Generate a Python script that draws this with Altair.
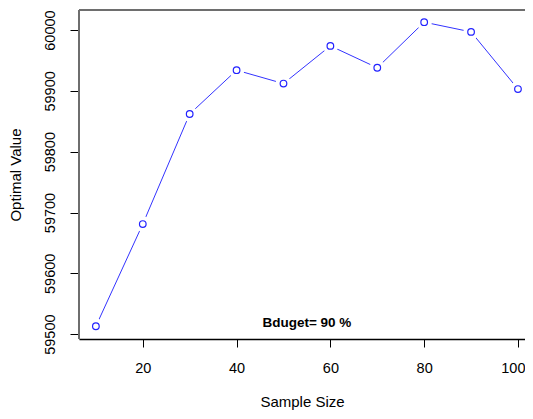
import altair as alt
import pandas as pd

sample_size = [10, 20, 30, 40, 50, 60, 70, 80, 90, 100]
optimal_value = [59513, 59681, 59862, 59934, 59912, 59974, 59938, 60013, 59997, 59903]
x_ticks = [20, 40, 60, 80, 100]
y_ticks = [59500, 59600, 59700, 59800, 59900, 60000]
note_text = ["Bduget= 90 %"]

df = pd.DataFrame({"x": sample_size, "y": optimal_value})

FONT = "Liberation Sans"
W, H = 446, 329

xs = alt.Scale(domain=[6.4, 101.5], nice=False, zero=False)
ys = alt.Scale(domain=[59492, 60033], nice=False, zero=False)

x_enc = alt.X("x:Q", scale=xs, title="Sample Size",
              axis=alt.Axis(values=x_ticks, grid=False, tickSize=8, tickColor="#000",
                            domainColor="#000", domainWidth=1.3, labelFontSize=14.5,
                            labelColor="#000", labelPadding=14, labelFont=FONT,
                            titleFont=FONT, titleFontSize=15, titleFontWeight="normal",
                            titleColor="#000", titlePadding=20, labelFlush=10,
                            labelFlushOffset=7))
y_enc = alt.Y("y:Q", scale=ys, title="Optimal Value",
              axis=alt.Axis(values=y_ticks, grid=False, tickSize=8, tickColor="#000",
                            domain=False, offset=1, labelAngle=-90, labelAlign="center",
                            labelBaseline="bottom", labelFontSize=14.5, labelColor="#000",
                            labelPadding=13, labelFont=FONT, titleFont=FONT,
                            titleFontSize=15, titleFontWeight="normal", titleColor="#000",
                            titlePadding=19, labelFlush=False, format="d"))

one = pd.DataFrame({"a": [0]})
left_edge = alt.Chart(one).mark_rule(color="#6e6e6e", strokeWidth=2).encode(
    x=alt.value(0), y=alt.value(0), y2=alt.value(H))
top_edge = alt.Chart(one).mark_rule(color="#6e6e6e", strokeWidth=2).encode(
    x=alt.value(0), x2=alt.value(W), y=alt.value(0))

base = alt.Chart(df)
line = base.mark_line(color="#3333FF", strokeWidth=1).encode(x=x_enc, y=y_enc)
mask = base.mark_point(shape="circle", filled=True, color="white", opacity=1, size=240).encode(x="x:Q", y="y:Q")
pts = base.mark_point(shape="circle", filled=False, color="#2222FF", size=44, strokeWidth=1.2, opacity=1).encode(x="x:Q", y="y:Q")

note = alt.Chart(pd.DataFrame({"t": note_text})).mark_text(
    font=FONT, fontSize=13.5, fontWeight="bold", color="#000"
).encode(x=alt.datum(55), y=alt.datum(59518), text="t:N")

chart = alt.layer(line, mask, pts, note, left_edge, top_edge).properties(
    width=W, height=H,
    autosize=alt.AutoSizeParams(type="none"),
    padding={"left": 71, "top": 2, "right": 0, "bottom": 72},
).configure_view(stroke=None).configure(background="white")

chart.save("out.html", embed_options={"renderer": "svg", "actions": False})
